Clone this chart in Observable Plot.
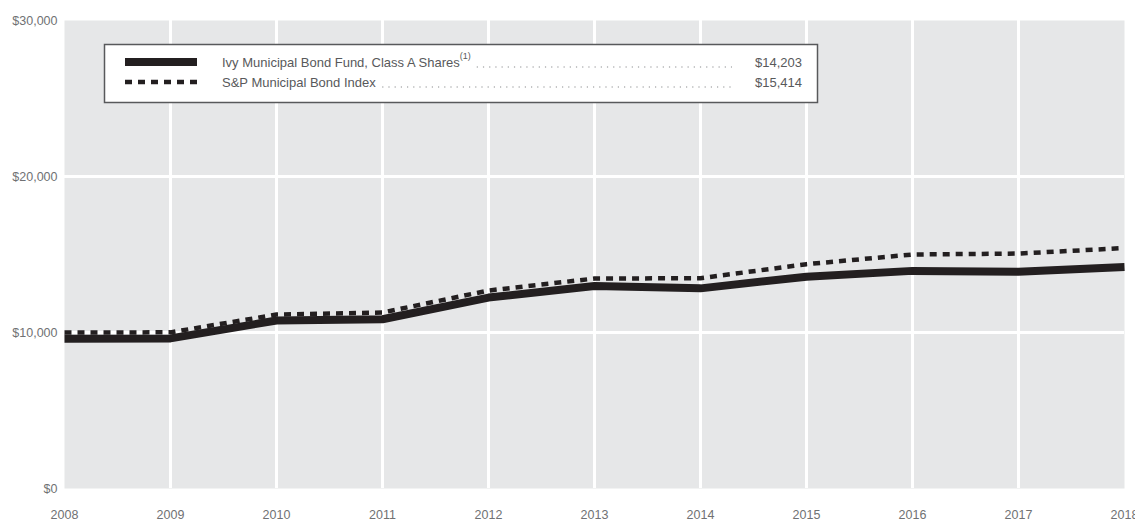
<!DOCTYPE html>
<html>
<head>
<meta charset="utf-8">
<script src="https://cdn.jsdelivr.net/npm/d3@7"></script>
<script src="https://cdn.jsdelivr.net/npm/@observablehq/plot@0.6"></script>
<style>
  html, body { margin: 0; padding: 0; background: #fff; }
  #wrap { position: relative; width: 1135px; height: 525px; overflow: hidden; }
  #legend { position: absolute; left: 0; top: 0; }
</style>
</head>
<body>
<div id="wrap"></div>
<script>
// ---- data ----
const years = [2008, 2009, 2010, 2011, 2012, 2013, 2014, 2015, 2016, 2017, 2018];
const fundValues = [9600, 9620, 10770, 10850, 12240, 12980, 12830, 13580, 13950, 13900, 14203];
const indexValues = [10000, 10010, 11150, 11280, 12690, 13460, 13480, 14380, 15000, 15060, 15414];
const seriesNames = ["Ivy Municipal Bond Fund, Class A Shares", "S&P Municipal Bond Index"];
const seriesEnding = ["$14,203", "$15,414"];
const yTicks = [0, 10000, 20000, 30000];

const fundData = years.map((y, i) => ({year: y, value: fundValues[i]}));
const indexData = years.map((y, i) => ({year: y, value: indexValues[i]}));

const fmt = d3.format(",");
const chart = Plot.plot({
  width: 1135,
  height: 525,
  marginLeft: 64,
  marginRight: 11,
  marginTop: 20,
  marginBottom: 37,
  style: {fontFamily: "'Liberation Sans', Arial, sans-serif", fontSize: "12.5px", color: "#707173", background: "white", overflow: "visible"},
  x: {domain: [2008, 2018], ticks: years, tickFormat: d => String(d), tickSize: 0, tickPadding: 22, label: null},
  y: {domain: [0, 30000], ticks: yTicks, tickFormat: d => "$" + fmt(d), tickSize: 0, tickPadding: 7, label: null},
  marks: [
    Plot.frame({fill: "#e6e7e8", stroke: null}),
    Plot.ruleX(years.slice(1, -1), {stroke: "white", strokeWidth: 3}),
    Plot.ruleY(yTicks.slice(1, -1), {stroke: "white", strokeWidth: 3}),
    Plot.line(fundData, {x: "year", y: "value", stroke: "#231f20", strokeWidth: 8, strokeLinecap: "butt", strokeLinejoin: "round"}),
    Plot.line(indexData, {x: "year", y: "value", stroke: "#231f20", strokeWidth: 4.5, strokeDasharray: "7,6", strokeLinecap: "butt", strokeLinejoin: "miter"})
  ]
});
const wrap = document.getElementById("wrap");
wrap.appendChild(chart);

// ---- legend overlay ----
const lg = d3.select(wrap).append("svg")
  .attr("id", "legend").attr("width", 1135).attr("height", 525)
  .style("font-family", "'Liberation Sans', Arial, sans-serif")
  .style("font-size", "13px");
lg.append("rect").attr("x", 104.5).attr("y", 44.5).attr("width", 713).attr("height", 58)
  .attr("fill", "white").attr("stroke", "#58595b").attr("stroke-width", 1.5);
const rows = [{y: 62, name: seriesNames[0], sup: "(1)", val: seriesEnding[0], w: 8, dash: null},
              {y: 82, name: seriesNames[1], sup: "", val: seriesEnding[1], w: 4.5, dash: "7,6"}];
rows.forEach(r => {
  const sw = lg.append("line").attr("x1", 125).attr("x2", 197).attr("y1", r.y).attr("y2", r.y)
    .attr("stroke", "#231f20").attr("stroke-width", r.w);
  if (r.dash) sw.attr("stroke-dasharray", r.dash);
  const t = lg.append("text").attr("x", 222).attr("y", r.y).attr("dy", "0.35em").attr("fill", "#58595b");
  t.append("tspan").text(r.name);
  if (r.sup) t.append("tspan").attr("font-size", "9px").attr("dy", "-0.8em").text(r.sup);
  const bb = t.node().getBBox();
  lg.append("line").attr("x1", bb.x + bb.width + 6).attr("x2", 732).attr("y1", r.y + 5).attr("y2", r.y + 5)
    .attr("stroke", "#8a8b8d").attr("stroke-width", 1.2).attr("stroke-dasharray", "1.2,5");
  lg.append("text").attr("x", 802).attr("y", r.y).attr("dy", "0.35em").attr("text-anchor", "end")
    .attr("fill", "#58595b").text(r.val);
});
</script>
</body>
</html>
